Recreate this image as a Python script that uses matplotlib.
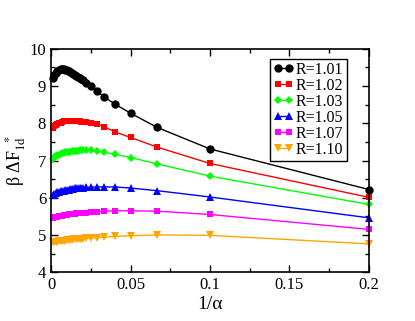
import matplotlib
matplotlib.use('Agg')
import matplotlib.pyplot as plt
from matplotlib.ticker import MultipleLocator

plt.rcParams['font.family'] = 'Liberation Serif'
plt.rcParams['mathtext.fontset'] = 'stix'

# 1/alpha values
X = [0.001, 0.002, 0.003, 0.004, 0.005, 0.006, 0.007, 0.008, 0.009, 0.010,
     0.011, 0.012, 0.013, 0.014, 0.015, 0.016, 0.017, 0.018, 0.019, 0.020,
     0.0222, 0.025, 0.0286, 0.0333, 0.04, 0.05, 0.0667, 0.1, 0.2]

R101 = [9.22, 9.30, 9.36, 9.40, 9.43, 9.45, 9.45, 9.45, 9.44, 9.42,
        9.40, 9.38, 9.35, 9.33, 9.30, 9.27, 9.24, 9.21, 9.18, 9.15,
        9.08, 8.99, 8.87, 8.71, 8.52, 8.27, 7.89, 7.31, 6.22]
R102 = [7.88, 7.92, 7.95, 7.98, 8.00, 8.02, 8.04, 8.05, 8.06, 8.07,
        8.07, 8.07, 8.07, 8.07, 8.07, 8.06, 8.06, 8.05, 8.04, 8.04,
        8.03, 8.02, 7.99, 7.91, 7.77, 7.62, 7.36, 6.92, 6.01]
R103 = [7.05, 7.09, 7.12, 7.14, 7.16, 7.18, 7.19, 7.21, 7.22, 7.23,
        7.24, 7.24, 7.25, 7.25, 7.26, 7.26, 7.26, 7.27, 7.27, 7.27,
        7.27, 7.27, 7.26, 7.22, 7.17, 7.08, 6.91, 6.58, 5.82]
R105 = [6.08, 6.11, 6.13, 6.15, 6.16, 6.17, 6.18, 6.19, 6.20, 6.21,
        6.22, 6.23, 6.24, 6.24, 6.25, 6.25, 6.26, 6.26, 6.27, 6.27,
        6.28, 6.28, 6.29, 6.29, 6.29, 6.26, 6.19, 6.02, 5.46]
R107 = [5.45, 5.47, 5.48, 5.49, 5.50, 5.51, 5.52, 5.53, 5.53, 5.54,
        5.55, 5.55, 5.56, 5.57, 5.57, 5.58, 5.58, 5.59, 5.59, 5.60,
        5.60, 5.61, 5.63, 5.64, 5.65, 5.65, 5.64, 5.55, 5.15]
R110 = [4.80, 4.81, 4.82, 4.82, 4.83, 4.84, 4.84, 4.85, 4.85, 4.86,
        4.86, 4.87, 4.87, 4.88, 4.88, 4.89, 4.89, 4.90, 4.90, 4.90,
        4.91, 4.92, 4.93, 4.94, 4.96, 4.98, 5.00, 4.99, 4.76]

SERIES = [
    ('R=1.01', R101, 'black', 'o', 6),
    ('R=1.02', R102, 'red', 's', 5),
    ('R=1.03', R103, '#00ff00', 'D', 4.5),
    ('R=1.05', R105, 'blue', '^', 5.5),
    ('R=1.07', R107, 'magenta', 's', 4.5),
    ('R=1.10', R110, 'orange', 'v', 5.5),
]

fig = plt.figure(figsize=(4.15, 3.21), dpi=100)
ax = fig.add_axes([0.123, 0.152, 0.766, 0.696])

for label, ys, col, mk, ms in SERIES:
    ax.plot(X, ys, color=col, marker=mk, markersize=ms, linewidth=1.0,
            markeredgewidth=0, label=label, clip_on=False)

ax.set_xlim(0, 0.2)
ax.set_ylim(4, 10)
ax.xaxis.set_minor_locator(MultipleLocator(0.025))
ax.yaxis.set_major_locator(MultipleLocator(1))
ax.yaxis.set_minor_locator(MultipleLocator(0.5))
ax.set_xticks([0, 0.05, 0.1, 0.15, 0.2])
ax.set_xticklabels(['0', '0.05', '0.1', '0.15', '0.2'])
ax.tick_params(which='both', direction='in', top=True, right=True, labelsize=12)
ax.tick_params(which='major', length=5, width=1)
ax.tick_params(which='minor', length=3, width=1)
for s in ax.spines.values():
    s.set_linewidth(1.2)

ax.set_xlabel('1/α', fontsize=14, labelpad=2)
ax.set_ylabel(r'β ΔF$_{\rm 1d}^{\ \ *}$', fontsize=13, labelpad=1)

leg = ax.legend(loc='upper right', bbox_to_anchor=(0.93, 0.955), fontsize=11.5,
                numpoints=2, handlelength=1.3, handletextpad=0.15,
                labelspacing=0.0, borderpad=0.2, borderaxespad=0,
                fancybox=False, framealpha=1, edgecolor='black')
leg.get_frame().set_linewidth(1.0)

fig.savefig('out.png', dpi=100)
